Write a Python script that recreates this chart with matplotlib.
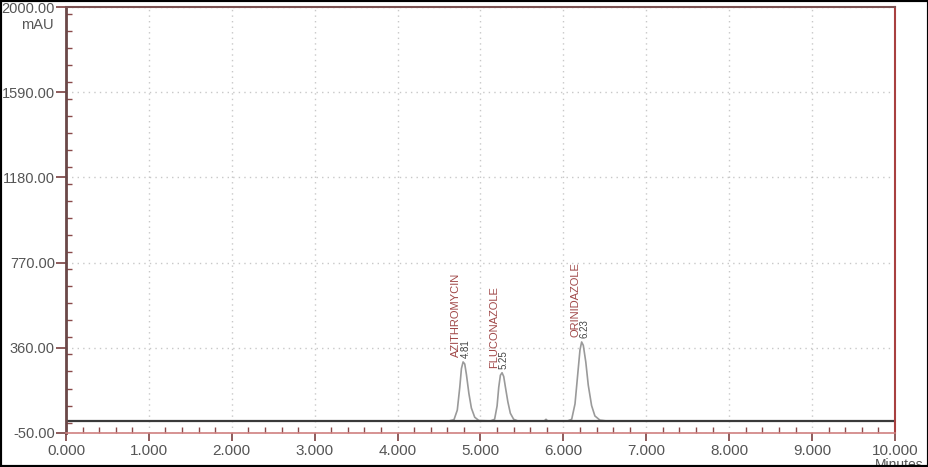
import numpy as np
import matplotlib.pyplot as plt
from matplotlib.ticker import MultipleLocator
from matplotlib.patches import Rectangle

# chromatogram trace (minutes, mAU)
time = [0.00, 4.62, 4.68, 4.72, 4.75, 4.77, 4.79, 4.81, 4.83, 4.86, 4.89, 4.93, 4.98,
        5.12, 5.17, 5.20, 5.22, 5.24, 5.26, 5.28, 5.30, 5.33, 5.36, 5.40, 5.45,
        5.77, 5.79, 5.81,
        6.05, 6.10, 6.14, 6.17, 6.20, 6.22, 6.24, 6.27, 6.30, 6.34, 6.38, 6.44, 6.52,
        10.00]
signal = [8, 8, 14, 60, 170, 260, 292, 282, 232, 140, 70, 26, 10,
          8, 16, 80, 170, 228, 240, 222, 172, 100, 45, 16, 8,
          8, 16, 8,
          8, 16, 90, 220, 350, 388, 372, 292, 180, 82, 32, 12, 8,
          8]
baseline = 8

peak_names = ['AZITHROMYCIN', 'FLUCONAZOLE', 'ORINIDAZOLE']
peak_times = [4.79, 5.25, 6.22]
peak_labels = ['4.81', '5.25', '6.23']
peak_heights = [292, 240, 388]

y_ticks = [-50, 360, 770, 1180, 1590, 2000]
x_ticks = [0, 1, 2, 3, 4, 5, 6, 7, 8, 9, 10]

plt.rcParams['font.family'] = ['Liberation Sans', 'DejaVu Sans']

fig = plt.figure(figsize=(9.29, 4.67), dpi=100)
ax = fig.add_axes([66 / 929, 1 - 433 / 467, (895 - 66) / 929, (433 - 7) / 467])

ax.plot(time, signal, color='#9a9a9a', lw=1.2)
ax.axhline(baseline, color='#3a3a3a', lw=1.6)

ax.set_xlim(0, 10)
ax.set_ylim(-50, 2000)
ax.set_xticks(x_ticks)
ax.set_xticklabels(['%.3f' % v for v in x_ticks])
ax.set_yticks(y_ticks)
ax.set_yticklabels(['%.2f' % v for v in y_ticks])
ax.xaxis.set_minor_locator(MultipleLocator(0.2))
ax.yaxis.set_minor_locator(MultipleLocator(82))

ax.grid(True, which='major', color='#c8c8c8', ls=(0, (1, 3)), lw=1)

ax.tick_params(which='major', direction='out', length=7, width=1.2,
               colors='#7a4040', labelcolor='#555555', labelsize=10.5)
ax.tick_params(which='minor', direction='in', length=4, width=1, colors='#8a4a4a')
ax.tick_params(axis='x', which='major', pad=2, length=6, labelsize=11)
ax.tick_params(axis='y', which='major', pad=1)

ax.spines['left'].set_color('#6a4848')
ax.spines['left'].set_linewidth(2)
ax.spines['top'].set_color('#7a5050')
ax.spines['top'].set_linewidth(1.5)
ax.spines['right'].set_color('#a84040')
ax.spines['right'].set_linewidth(1.5)
ax.spines['bottom'].set_color('#d08080')
ax.spines['bottom'].set_linewidth(1.2)

ax.text(-0.15, 1915, 'mAU', ha='right', va='center', fontsize=10.5, color='#555555')
ax.text(10.05, -172, 'Minutes', ha='center', va='top', fontsize=10, color='#555555',
        clip_on=False)

for name, t, lab, h in zip(peak_names, peak_times, peak_labels, peak_heights):
    ax.text(t - 0.08, h + 25, name, rotation=90, ha='center', va='bottom',
            fontsize=8, color='#a04848')
    ax.text(t + 0.03, h + 20, lab, rotation=90, ha='center', va='bottom',
            fontsize=7, color='#444444')

fig.patches.append(Rectangle((0, 0), 1, 1, transform=fig.transFigure, fill=False,
                             edgecolor='black', lw=3, clip_on=False))

fig.savefig('out.png', dpi=100)
